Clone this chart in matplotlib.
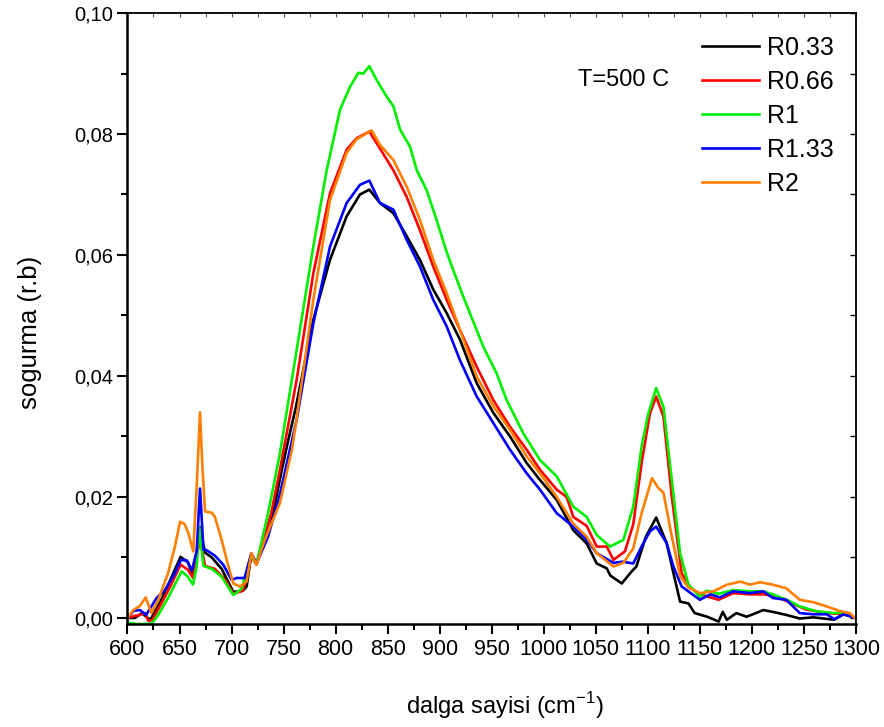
import matplotlib
matplotlib.use("Agg")
import matplotlib.pyplot as plt
from matplotlib.ticker import MultipleLocator, FuncFormatter

plt.rcParams.update({
    "font.family": ["Liberation Sans", "DejaVu Sans"],
    "mathtext.fontset": "custom",
    "mathtext.rm": "Liberation Sans",
})

LABELS = ["R0.33", "R0.66", "R1", "R1.33", "R2"]
COLORS = ["#000000", "#ff0000", "#00ee00", "#0000ff", "#ff7f00"]

# R0.33
x_r033 = [600, 607, 614, 618, 622, 632, 642, 651, 658, 662, 666.5, 669.7, 674.5, 681,
          690.5, 701.7, 711, 714.5, 719, 724, 738, 746.5, 754, 762, 778.6, 794.6,
          810.6, 823.4, 832.4, 842.6, 855.5, 868.3, 881, 893.8, 906.7, 919.5, 935.6,
          951.6, 967.6, 983.6, 996.4, 1012.5, 1028.4, 1041.3, 1050.9, 1060.5, 1064,
          1075, 1084, 1089, 1098, 1108, 1118, 1124.6, 1131, 1139, 1145, 1157, 1168,
          1172, 1176, 1185, 1195, 1211, 1220, 1233, 1246, 1259, 1279, 1288, 1300]
y_r033 = [0.0, 0.0, 0.0008, 0.0002, -0.0003, 0.0028, 0.0066, 0.0101, 0.0092, 0.0075,
          0.0108, 0.0150, 0.0108, 0.0100, 0.0081, 0.0043, 0.0045, 0.0052, 0.0105,
          0.0090, 0.0155, 0.0230, 0.0290, 0.0350, 0.0493, 0.0592, 0.0664, 0.0700,
          0.0708, 0.0686, 0.0669, 0.0631, 0.0592, 0.0543, 0.0504, 0.0460, 0.0388,
          0.0339, 0.0300, 0.0256, 0.0228, 0.0195, 0.0145, 0.0123, 0.0090, 0.0082,
          0.0070, 0.0057, 0.0076, 0.0085, 0.0134, 0.0166, 0.0124, 0.0074, 0.0027,
          0.0024, 0.0008, 0.0002, -0.0006, 0.0010, -0.0003, 0.0008, 0.0002, 0.0013,
          0.0010, 0.0005, -0.0001, 0.0001, -0.0003, 0.0006, 0.0]

# R0.66
x_r066 = [600, 606, 612, 617, 620, 624, 632, 642, 651, 658, 663, 666.5, 669.7, 674.5,
          684, 694, 701.7, 711, 719, 724, 738, 746.5, 762.6, 778.6, 794.6, 810.6,
          820.2, 832.4, 842.6, 855.5, 868.3, 881, 893.8, 906.7, 919.5, 935.6, 951.6,
          967.6, 983.6, 996.4, 1012.5, 1022, 1028.4, 1041.3, 1050.9, 1060.5, 1067,
          1078, 1086, 1094, 1102, 1108, 1115, 1123, 1132.5, 1141, 1150, 1168, 1182,
          1198, 1211, 1223, 1237, 1252, 1272, 1291, 1300]
y_r066 = [0.0, 0.0003, 0.0005, 0.0008, -0.0005, -0.0003, 0.0022, 0.0055, 0.0088,
          0.0080, 0.0066, 0.0102, 0.0130, 0.0086, 0.0081, 0.0063, 0.0040, 0.0045,
          0.0102, 0.0088, 0.0172, 0.0245, 0.0394, 0.0570, 0.0702, 0.0774, 0.0793,
          0.0804, 0.0776, 0.0740, 0.0696, 0.0641, 0.0581, 0.0526, 0.0476, 0.0415,
          0.0360, 0.0316, 0.0278, 0.0245, 0.0212, 0.0200, 0.0167, 0.0152, 0.0118,
          0.0118, 0.0096, 0.0110, 0.0155, 0.0256, 0.0338, 0.0366, 0.0333, 0.0201,
          0.0074, 0.0050, 0.0039, 0.0030, 0.0041, 0.0039, 0.0039, 0.0036, 0.0025,
          0.0014, 0.0008, 0.0006, 0.0]

# R1
x_r1 = [600, 610, 620, 624, 629.6, 639, 652, 658, 663, 666.5, 669, 673, 681, 690.5,
        701.7, 709.5, 719, 724, 735, 746.5, 762.6, 778.6, 791.4, 804.2, 813.8, 821.8,
        826.6, 832.4, 839.5, 849, 855.5, 862, 871.5, 878, 887.5, 897, 906.7, 913,
        922.7, 942, 954.8, 964.4, 980.4, 996.4, 1012.5, 1028.4, 1041.3, 1050.9,
        1063.7, 1076.5, 1086, 1094, 1100.5, 1108, 1115, 1123, 1131, 1139, 1150,
        1156.6, 1168, 1182, 1198, 1211, 1220, 1233.5, 1246, 1262, 1279, 1291, 1300]
y_r1 = [-0.0008, -0.0010, -0.0010, -0.0008, 0.0005, 0.0033, 0.0077, 0.0068, 0.0055,
        0.0085, 0.0150, 0.0086, 0.0081, 0.0068, 0.0038, 0.0048, 0.0102, 0.0090,
        0.0172, 0.0272, 0.0443, 0.0614, 0.0740, 0.0840, 0.0878, 0.0901, 0.0900,
        0.0912, 0.0889, 0.0862, 0.0846, 0.0807, 0.0779, 0.0740, 0.0707, 0.0658,
        0.0605, 0.0575, 0.0531, 0.0448, 0.0404, 0.0360, 0.0305, 0.0261, 0.0234,
        0.0184, 0.0167, 0.0137, 0.0118, 0.0129, 0.0184, 0.0283, 0.0338, 0.0380,
        0.0349, 0.0228, 0.0107, 0.0055, 0.0035, 0.0045, 0.0040, 0.0046, 0.0044,
        0.0044, 0.0039, 0.0030, 0.0019, 0.0011, 0.0008, 0.0009, -0.0001]

# R1.33
x_r133 = [600, 606, 612, 618, 628, 636, 645.6, 651.4, 657, 662, 666.5, 669.7, 673,
          676, 684, 692, 700, 705, 712.5, 719, 724, 735, 746.5, 762.6, 778.6, 794.6,
          810.6, 823.4, 832.4, 842.6, 855.5, 868.3, 881, 893.8, 906.7, 919.5, 935.6,
          951.6, 967.6, 983.6, 996.4, 1012.5, 1028.4, 1041.3, 1050.9, 1067, 1076,
          1086, 1094, 1102, 1108, 1118, 1124.6, 1132.5, 1150, 1160, 1169, 1182, 1198,
          1211, 1220, 1233, 1246, 1259, 1272, 1279, 1288, 1300]
y_r133 = [0.0, 0.0012, 0.0013, 0.0005, 0.0033, 0.0046, 0.0074, 0.0096, 0.0095,
          0.0079, 0.0110, 0.0214, 0.0113, 0.0112, 0.0103, 0.0088, 0.0063, 0.0066,
          0.0066, 0.0107, 0.0090, 0.0134, 0.0205, 0.0328, 0.0487, 0.0614, 0.0686,
          0.0716, 0.0723, 0.0686, 0.0675, 0.0625, 0.0581, 0.0526, 0.0482, 0.0426,
          0.0366, 0.0322, 0.0278, 0.0239, 0.0212, 0.0173, 0.0151, 0.0129, 0.0107,
          0.0091, 0.0093, 0.0090, 0.0118, 0.0143, 0.0151, 0.0124, 0.0085, 0.0052,
          0.0030, 0.0039, 0.0034, 0.0044, 0.0041, 0.0044, 0.0033, 0.0030, 0.0008,
          0.0006, 0.0006, -0.0002, 0.0006, 0.0]

# R2
x_r2 = [600, 605.6, 612, 617.5, 623, 629.6, 639, 645.6, 650.5, 655, 658.5, 663.2,
        666.5, 669.7, 672, 674.5, 681, 684, 690.5, 697, 701.7, 708, 714.5, 719, 724,
        732, 746.5, 758, 762.6, 778.6, 794.6, 810.6, 820, 834.6, 842.6, 855.5, 868.3,
        881, 893.8, 906.7, 919.5, 935.6, 951.6, 967.6, 983.6, 996.4, 1012.5, 1028.4,
        1041.3, 1050.9, 1067, 1076.5, 1086, 1094, 1104, 1110, 1115, 1123, 1131, 1139,
        1150, 1163, 1176, 1189, 1198, 1208, 1220, 1233, 1246, 1259, 1272, 1285, 1294,
        1300]
y_r2 = [0.0, 0.0013, 0.0020, 0.0034, 0.0008, 0.0030, 0.0074, 0.0118, 0.0159, 0.0155,
        0.0140, 0.0110, 0.0217, 0.0340, 0.0250, 0.0176, 0.0174, 0.0167, 0.0129,
        0.0085, 0.0057, 0.0052, 0.0060, 0.0107, 0.0088, 0.0129, 0.0190, 0.0278,
        0.0330, 0.0526, 0.0691, 0.0769, 0.0791, 0.0806, 0.0782, 0.0757, 0.0713,
        0.0658, 0.0592, 0.0537, 0.0476, 0.0399, 0.0350, 0.0311, 0.0267, 0.0239,
        0.0200, 0.0156, 0.0134, 0.0107, 0.0085, 0.0091, 0.0115, 0.0173, 0.0231,
        0.0215, 0.0207, 0.0135, 0.0069, 0.0050, 0.0041, 0.0044, 0.0055, 0.0060,
        0.0055, 0.0059, 0.0055, 0.0049, 0.0030, 0.0026, 0.0019, 0.0011, 0.0008,
        -0.0002]

XS = [x_r033, x_r066, x_r1, x_r133, x_r2]
YS = [y_r033, y_r066, y_r1, y_r133, y_r2]

fig = plt.figure(figsize=(8.84, 7.27), dpi=100)
ax = fig.add_axes([0.1442, 0.1417, 0.8241, 0.8404])

for xs, ys, c, lab in zip(XS, YS, COLORS, LABELS):
    ax.plot(xs, ys, color=c, lw=1.9, label=lab)

ax.set_xlim(600, 1300)
ax.set_ylim(-0.001, 0.10)
ax.xaxis.set_major_locator(MultipleLocator(50))
ax.xaxis.set_minor_locator(MultipleLocator(25))
ax.yaxis.set_major_locator(MultipleLocator(0.02))
ax.yaxis.set_minor_locator(MultipleLocator(0.01))
ax.yaxis.set_major_formatter(FuncFormatter(lambda v, p: f"{v:.2f}".replace(".", ",")))

ax.tick_params(which="both", direction="out", top=False, right=False, width=1.5)
ax.tick_params(axis="x", labelsize=15.5)
ax.tick_params(axis="y", labelsize=14.5)
ax.tick_params(which="major", length=7)
ax.tick_params(which="minor", length=4)
for s in ["left", "bottom"]:
    ax.spines[s].set_linewidth(1.8)
for s in ["top", "right"]:
    ax.spines[s].set_linewidth(1.3)

# small inward ticks on top and right frame
top = ax.secondary_xaxis("top")
top.xaxis.set_major_locator(MultipleLocator(50))
top.xaxis.set_minor_locator(MultipleLocator(25))
top.tick_params(which="both", direction="in", labeltop=False, length=3, width=0.8,
                color="#555555")
top.spines["top"].set_visible(False)
right = ax.secondary_yaxis("right")
right.yaxis.set_major_locator(MultipleLocator(0.02))
right.yaxis.set_minor_locator(MultipleLocator(0.01))
right.tick_params(which="both", direction="in", labelright=False, length=4, width=1.0)
right.spines["right"].set_visible(False)

fig.text(0.571, 0.03, "dalga sayisi (cm$^{\\mathregular{-1}}$)", fontsize=17,
         ha="center", va="center")
fig.text(0.034, 0.543, "sogurma (r.b)", fontsize=18.5, rotation=90,
         ha="center", va="center")

ax.text(0.619, 0.89, "T=500 C", transform=ax.transAxes, fontsize=17,
        va="center", ha="left")

ax.legend(loc="upper right", bbox_to_anchor=(1.0, 1.0), frameon=False,
          fontsize=18, handlelength=2.3, handletextpad=0.3, labelspacing=0.4,
          borderaxespad=0.5)

fig.savefig("out.png", dpi=100, facecolor="white")
